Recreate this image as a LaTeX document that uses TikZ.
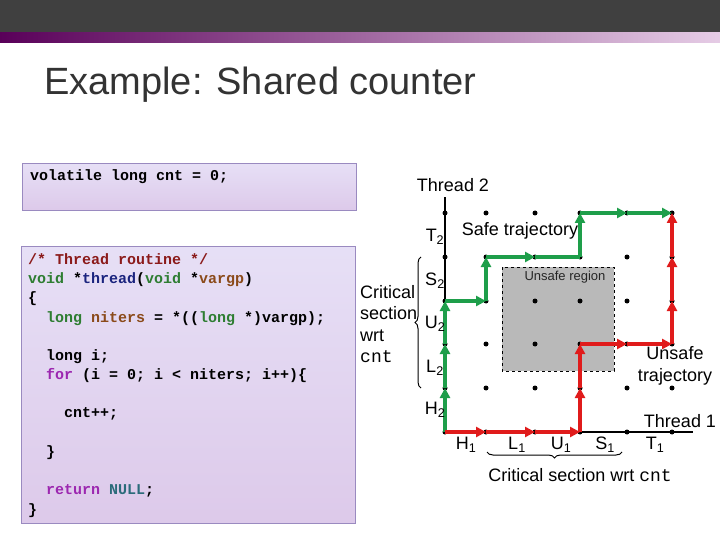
\documentclass[tikz,border=0pt]{standalone}
\usepackage{fontspec}
\setmainfont{Liberation Sans}
\newfontfamily\codefont{Liberation Mono}
\usetikzlibrary{arrows.meta,decorations.pathreplacing}
\definecolor{cmt}{HTML}{8B1A1A}
\definecolor{kw}{HTML}{2E7D32}
\definecolor{fn}{HTML}{1A237E}
\definecolor{var}{HTML}{8B4A1A}
\definecolor{ctl}{HTML}{9C27B0}
\definecolor{nul}{HTML}{2A6B7A}
\definecolor{boxfill}{HTML}{DCD2F2}
\definecolor{boxedge}{HTML}{9A8AC0}
\definecolor{safe}{HTML}{1E9E4A}
\definecolor{unsafe}{HTML}{E01B1B}
\begin{document}
\begin{tikzpicture}[x=1pt,y=-1pt,
  code/.style={anchor=base west,inner sep=0pt,font=\codefont\bfseries\fontsize{15}{15}\selectfont},
  lbl/.style={inner sep=0pt,font=\fontsize{18}{20}\selectfont},
  dot/.style={circle,fill=black,inner sep=0pt,minimum size=5pt},
  seg/.style={line width=3.5pt,-{Triangle[length=10pt,width=10pt]}},
  codebox/.style={draw=boxedge,left color=boxfill!70!white,right color=boxfill!85!violet!70,shading angle=0}]
\useasboundingbox (0,0) rectangle (720,540);
\fill[white] (0,0) rectangle (720,540);
\fill[black!75] (0,0) rectangle (720,33);
\shade[left color=violet!70!black,right color=violet!20] (0,33) rectangle (720,43);
\node[anchor=base west,inner sep=0pt,font=\fontsize{38}{40}\selectfont,text=black!80] (title) at (44,95) {Example: Shared counter};
% code boxes
\node[codebox,minimum width=334pt,minimum height=47pt,anchor=north west,inner sep=0pt] (b1) at (22,163) {};
\node[codebox,minimum width=334pt,minimum height=277pt,anchor=north west,inner sep=0pt] (b2) at (21,246) {};
\node[code] (c0) at (30,181) {volatile long cnt = 0;};
\node[code] (c1) at (28,264) {\textcolor{cmt}{/* Thread routine */}};
\node[code] (c2) at (28,283) {\textcolor{kw}{void} *\textcolor{fn}{thread}(\textcolor{kw}{void} *\textcolor{var}{vargp})};
\node[code] (c3) at (28,302) {\{};
\node[code] (c4) at (28,322) {\ \ \textcolor{kw}{long} \textcolor{var}{niters} = *((\textcolor{kw}{long} *)vargp);};
\node[code] (c5) at (28,360) {\ \ long i;};
\node[code] (c6) at (28,379) {\ \ \textcolor{ctl}{for} (i = 0; i < niters; i++)\{};
\node[code] (c7) at (28,417) {\ \ \ \ cnt++;};
\node[code] (c8) at (28,456) {\ \ \}};
\node[code] (c9) at (28,494) {\ \ \textcolor{ctl}{return} \textcolor{nul}{NULL};};
\node[code] (c10) at (28,514) {\}};
% grid
\draw[line width=1.2pt] (445,432) -- (693,432);
\draw[line width=1.2pt] (445,432) -- (445,197);
\fill[gray!55] (502,267) rectangle (614,371);
\draw[dashed,line width=1pt] (502,267) rectangle (614,371);
\node[inner sep=0pt,font=\fontsize{13}{15}\selectfont,text=black!85] (ur) at (565,277) {Unsafe region};
\foreach \i/\x in {0/445,1/486,2/535,3/580,4/627,5/672}
  \foreach \j/\y in {0/432,1/388,2/344,3/301,4/257,5/213}
    \node[dot] (p\i\j) at (\x,\y) {};
% safe
\draw[seg,safe] (p00.center) -- (p01.center);
\draw[seg,safe] (p01.center) -- (p02.center);
\draw[seg,safe] (p02.center) -- (p03.center);
\draw[seg,safe] (p03.center) -- (p13.center);
\draw[seg,safe] (p13.center) -- (p14.center);
\draw[seg,safe] (p14.center) -- (p24.center);
\draw[line width=3.5pt,safe] (p24.center) -- (p34.center);
\draw[seg,safe] (p34.center) -- (p35.center);
\draw[seg,safe] (p35.center) -- (p45.center);
\draw[seg,safe] (p45.center) -- (p55.center);
% unsafe
\draw[seg,unsafe] (p00.center) -- (p10.center);
\draw[seg,unsafe] (p10.center) -- (p20.center);
\draw[seg,unsafe] (p20.center) -- (p30.center);
\draw[seg,unsafe] (p30.center) -- (p31.center);
\draw[seg,unsafe] (p31.center) -- (p32.center);
\draw[seg,unsafe] (p32.center) -- (p42.center);
\draw[seg,unsafe] (p42.center) -- (p52.center);
\draw[seg,unsafe] (p52.center) -- (p53.center);
\draw[seg,unsafe] (p53.center) -- (p54.center);
\draw[seg,unsafe] (p54.center) -- (p55.center);
% labels
\node[lbl] (t2) at (453,185) {Thread 2};
\node[lbl] (T2) at (435,237) {T\textsubscript{2}};
\node[lbl] (st) at (520,231) {Safe trajectory};
\node[lbl] (S2) at (435,281) {S\textsubscript{2}};
\node[lbl] (U2) at (435,324) {U\textsubscript{2}};
\node[lbl] (L2) at (435,368) {L\textsubscript{2}};
\node[lbl] (H2) at (435,410) {H\textsubscript{2}};
\node[lbl,anchor=west,align=left,font=\fontsize{18}{21.5}\selectfont] (cs2) at (360,324) {Critical\\section\\wrt\\{\codefont cnt}};
\draw[decorate,decoration={brace,amplitude=6pt},line width=1pt] (421,388) -- (421,257);
\node[lbl,align=center,font=\fontsize{18}{22}\selectfont] (ut) at (675,366) {Unsafe\\trajectory};
\node[lbl] (t1) at (680,421) {Thread 1};
\node[lbl] (H1) at (466,445) {H\textsubscript{1}};
\node[lbl] (L1) at (517,445) {L\textsubscript{1}};
\node[lbl] (U1) at (561,445) {U\textsubscript{1}};
\node[lbl] (S1) at (605,445) {S\textsubscript{1}};
\node[lbl] (T1) at (655,445) {T\textsubscript{1}};
\draw[decorate,decoration={brace,amplitude=6pt},line width=1pt] (622,452) -- (487,452);
\node[lbl] (cs1) at (580,475) {Critical section wrt {\codefont cnt}};
\end{tikzpicture}
\end{document}
